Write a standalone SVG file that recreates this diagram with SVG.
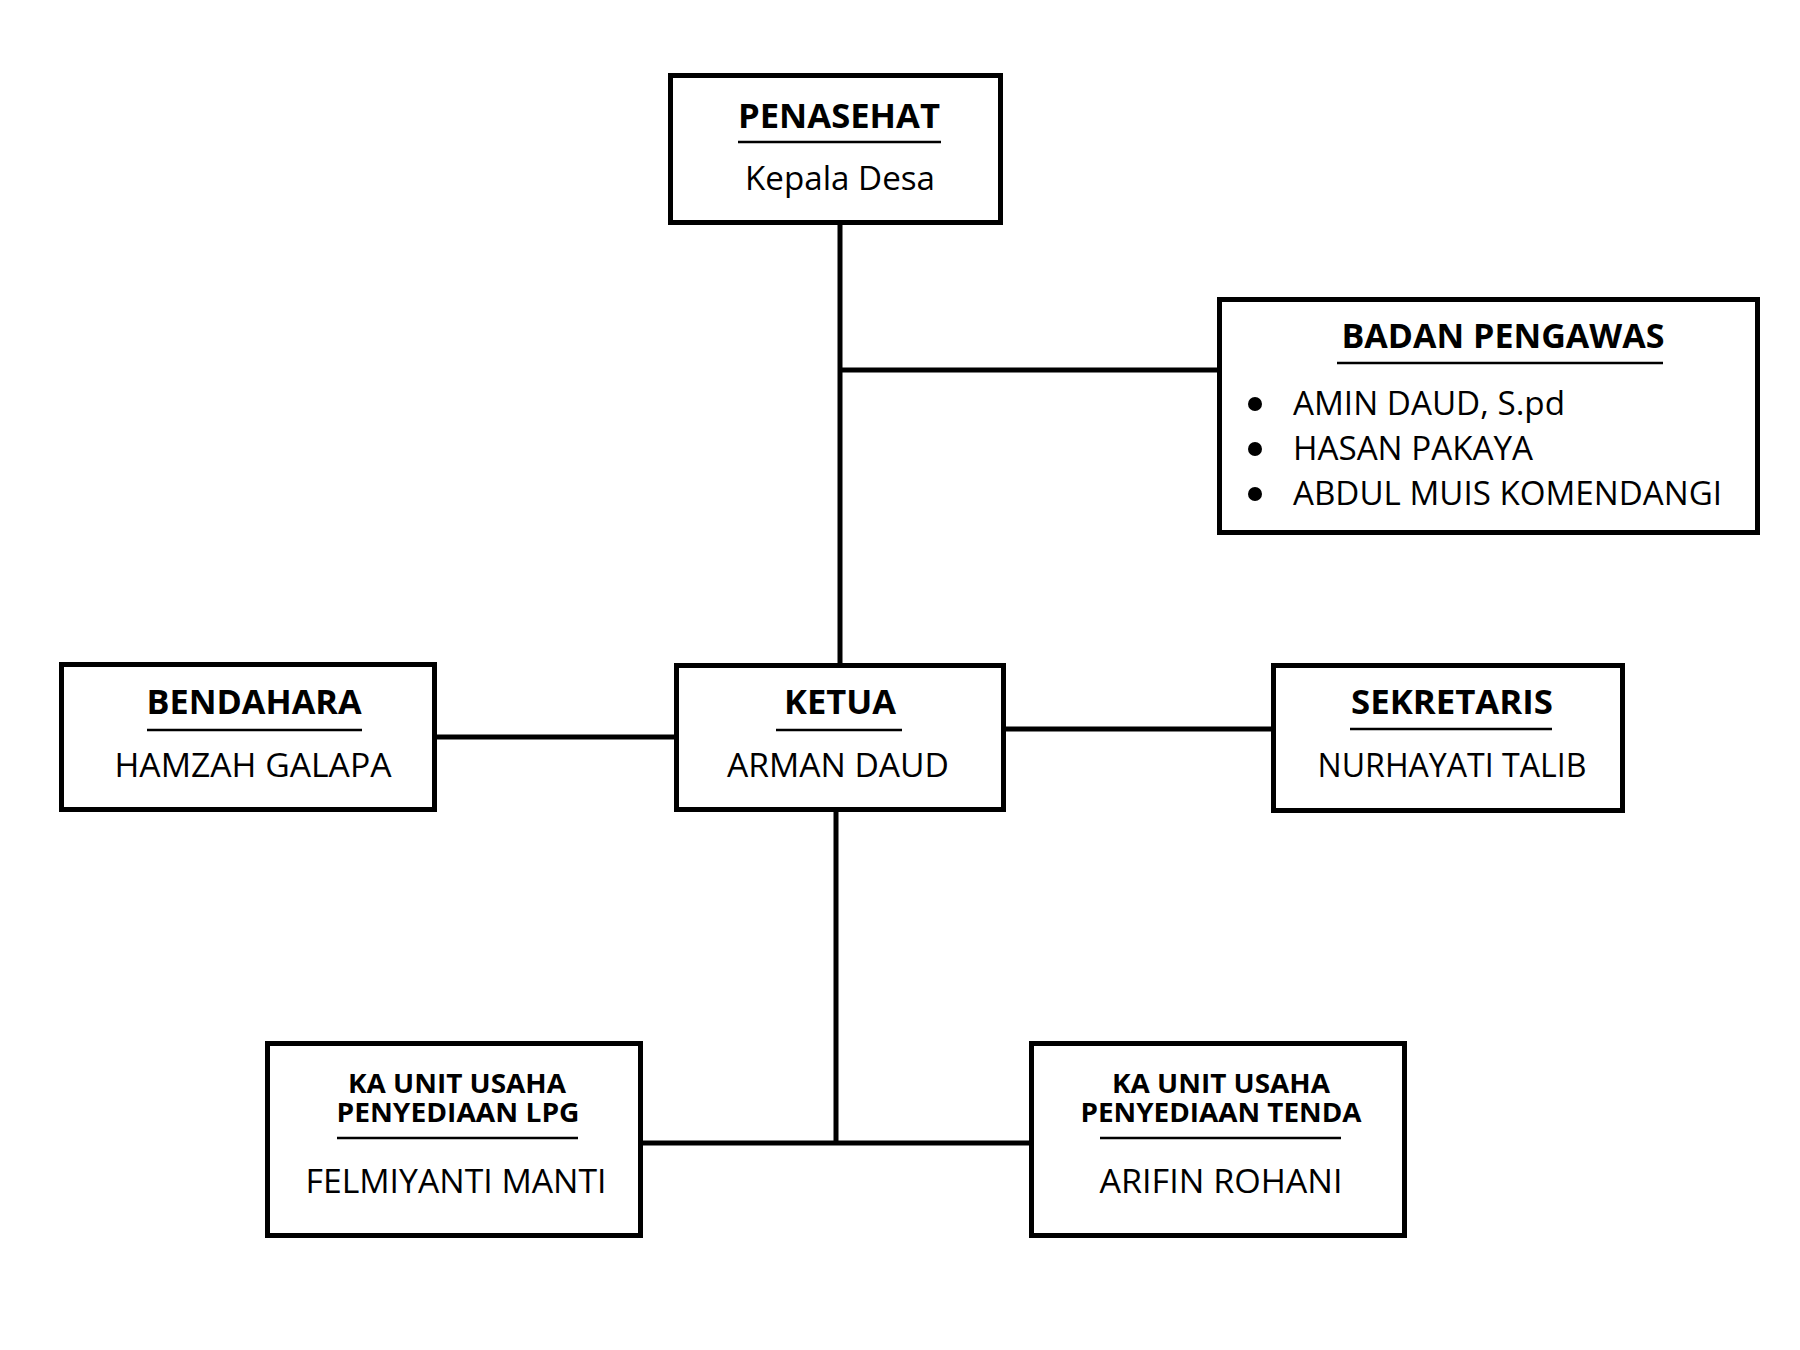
<svg xmlns="http://www.w3.org/2000/svg" width="1800" height="1350" viewBox="0 0 1800 1350">
<style>
.box{fill:#fff;stroke:#000;stroke-width:5}
.ln{stroke:#000;stroke-width:5;fill:none}
.ul{stroke:#000;stroke-width:2.5}
.t{font-family:"Open Sans","Liberation Sans",sans-serif;font-weight:700;font-size:34px;fill:#000;text-anchor:middle}
.ts{font-family:"Open Sans","Liberation Sans",sans-serif;font-weight:700;font-size:26px;fill:#000;text-anchor:middle}
.n{font-family:"Open Sans","Liberation Sans",sans-serif;font-size:33px;fill:#000;text-anchor:middle}
.l{font-family:"Open Sans","Liberation Sans",sans-serif;font-size:32px;fill:#000}
</style>
<rect width="1800" height="1350" fill="#fff"/>
<g id="connectors">
<line class="ln" x1="840" y1="225" x2="840" y2="663"/>
<line class="ln" x1="840" y1="370" x2="1217" y2="370"/>
<line class="ln" x1="437" y1="737" x2="674" y2="737"/>
<line class="ln" x1="1006" y1="729" x2="1271" y2="729"/>
<line class="ln" x1="836" y1="812" x2="836" y2="1143"/>
<line class="ln" x1="643" y1="1143" x2="1029" y2="1143"/>
</g>
<g id="penasehat">
<rect class="box" x="670.5" y="75.5" width="330" height="147"/>
<text class="t" x="839" y="128" textLength="202" lengthAdjust="spacingAndGlyphs">PENASEHAT</text>
<line class="ul" x1="738" y1="142" x2="941" y2="142"/>
<text class="n" x="840" y="190" textLength="190" lengthAdjust="spacingAndGlyphs">Kepala Desa</text>
</g>
<g id="badan-pengawas">
<rect class="box" x="1219.5" y="299.5" width="538" height="233"/>
<text class="t" x="1503" y="348" textLength="323" lengthAdjust="spacingAndGlyphs">BADAN PENGAWAS</text>
<line class="ul" x1="1337" y1="363" x2="1663" y2="363"/>
<circle cx="1255" cy="404" r="7"/>
<circle cx="1255" cy="449" r="7"/>
<circle cx="1255" cy="494" r="7"/>
<text class="l" x="1293" y="415" textLength="272" lengthAdjust="spacingAndGlyphs">AMIN DAUD, S.pd</text>
<text class="l" x="1293" y="460" textLength="240" lengthAdjust="spacingAndGlyphs">HASAN PAKAYA</text>
<text class="l" x="1293" y="505" textLength="429" lengthAdjust="spacingAndGlyphs">ABDUL MUIS KOMENDANGI</text>
</g>
<g id="bendahara">
<rect class="box" x="61.5" y="664.5" width="373" height="145"/>
<text class="t" x="254" y="714" textLength="215" lengthAdjust="spacingAndGlyphs">BENDAHARA</text>
<line class="ul" x1="147" y1="730" x2="362" y2="730"/>
<text class="n" x="253" y="777" textLength="277" lengthAdjust="spacingAndGlyphs">HAMZAH GALAPA</text>
</g>
<g id="ketua">
<rect class="box" x="676.5" y="665.5" width="327" height="144"/>
<text class="t" x="840" y="714" textLength="112" lengthAdjust="spacingAndGlyphs">KETUA</text>
<line class="ul" x1="776" y1="730" x2="902" y2="730"/>
<text class="n" x="838" y="777" textLength="222" lengthAdjust="spacingAndGlyphs">ARMAN DAUD</text>
</g>
<g id="sekretaris">
<rect class="box" x="1273.5" y="665.5" width="349" height="145"/>
<text class="t" x="1452" y="714" textLength="202" lengthAdjust="spacingAndGlyphs">SEKRETARIS</text>
<line class="ul" x1="1350" y1="729" x2="1552" y2="729"/>
<text class="n" x="1452" y="777" textLength="269" lengthAdjust="spacingAndGlyphs">NURHAYATI TALIB</text>
</g>
<g id="unit-lpg">
<rect class="box" x="267.5" y="1043.5" width="373" height="192"/>
<text class="ts" x="457" y="1093" textLength="218" lengthAdjust="spacingAndGlyphs">KA UNIT USAHA</text>
<text class="ts" x="458" y="1122" textLength="243" lengthAdjust="spacingAndGlyphs">PENYEDIAAN LPG</text>
<line class="ul" x1="337" y1="1138" x2="578" y2="1138"/>
<text class="n" x="456" y="1193" textLength="301" lengthAdjust="spacingAndGlyphs">FELMIYANTI MANTI</text>
</g>
<g id="unit-tenda">
<rect class="box" x="1031.5" y="1043.5" width="373" height="192"/>
<text class="ts" x="1221" y="1093" textLength="218" lengthAdjust="spacingAndGlyphs">KA UNIT USAHA</text>
<text class="ts" x="1221" y="1122" textLength="281" lengthAdjust="spacingAndGlyphs">PENYEDIAAN TENDA</text>
<line class="ul" x1="1100" y1="1138" x2="1341" y2="1138"/>
<text class="n" x="1221" y="1193" textLength="243" lengthAdjust="spacingAndGlyphs">ARIFIN ROHANI</text>
</g>
</svg>
